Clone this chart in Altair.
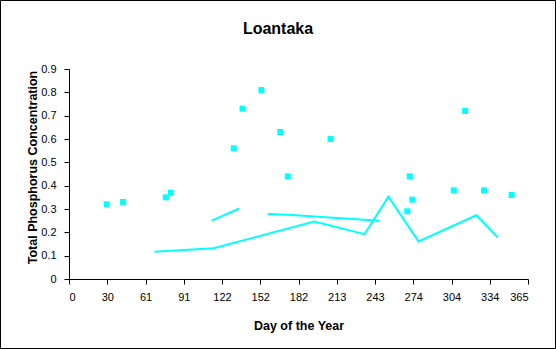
import altair as alt
import pandas as pd

# Scatter observations
scatter_day = [30, 43, 77, 81, 131, 138, 153, 168, 174, 208, 271, 273, 269, 306, 315, 330, 352]
scatter_tp = [0.32, 0.33, 0.35, 0.37, 0.56, 0.73, 0.81, 0.63, 0.44, 0.60, 0.44, 0.34, 0.29, 0.38, 0.72, 0.38, 0.36]

# Line series
lineA_day = [68, 115, 195, 235, 254, 278, 324, 341]
lineA_tp = [0.117, 0.132, 0.246, 0.192, 0.353, 0.161, 0.273, 0.178]
lineB_day = [113.5, 135.5]
lineB_tp = [0.250, 0.302]
lineC_day = [158, 177, 247]
lineC_tp = [0.279, 0.274, 0.250]

title_text = ["Loantaka"]
x_tick_labels = ["0", "30", "61", "91", "122", "152", "182", "213", "243", "274", "304", "334", "365"]
y_ticks = [0, 0.1, 0.2, 0.3, 0.4, 0.5, 0.6, 0.7, 0.8, 0.9]

x_tick_values = [k * 365 / 12 for k in range(13)]

pts = pd.DataFrame({"day": scatter_day, "tp": scatter_tp})
lines = pd.concat([
    pd.DataFrame({"day": lineA_day, "tp": lineA_tp, "series": "A"}),
    pd.DataFrame({"day": lineB_day, "tp": lineB_tp, "series": "B"}),
    pd.DataFrame({"day": lineC_day, "tp": lineC_tp, "series": "C"}),
], ignore_index=True)
lines["order"] = range(len(lines))

label_js = "[" + ",".join("'%s'" % s for s in x_tick_labels) + "]"

x_enc = alt.X(
    "day:Q",
    scale=alt.Scale(domain=[0, 365], nice=False, zero=False),
    axis=alt.Axis(
        values=x_tick_values,
        labelExpr=label_js + "[round(datum.value*12/365)]",
        title="Day of the Year",
        titleY=46,
        titleBaseline="middle",
        labelPadding=7,
    ),
)
y_enc = alt.Y(
    "tp:Q",
    scale=alt.Scale(domain=[0, 0.9], nice=False),
    axis=alt.Axis(
        values=y_ticks, format=".1~f", title="Total Phosphorus Concentration",
        titleX=-37, titleY=98, titleBaseline="middle", titleAlign="center",
        titleAngle=-90, labelPadding=8,
    ),
)

CYAN = "#00FFFF"

line_layer = alt.Chart(lines).mark_line(color=CYAN, strokeWidth=2).encode(
    x=x_enc, y=y_enc, detail="series:N", order="order:Q"
)
pt_layer = alt.Chart(pts).mark_point(
    shape="square", filled=True, color=CYAN, size=36, opacity=1
).encode(x=x_enc, y=y_enc)

frame = alt.Chart(pd.DataFrame({"a": [0]})).mark_rect(
    fill=None, stroke="black", strokeWidth=1
).encode(
    x=alt.value(-68.5), x2=alt.value(486.5), y=alt.value(-68.5), y2=alt.value(279.5)
)

title_layer = alt.Chart(pd.DataFrame({"t": title_text})).mark_text(
    font="Liberation Sans", fontSize=16, fontWeight="bold", color="black",
    align="center", baseline="alphabetic",
).encode(text="t:N", x=alt.value(209), y=alt.value(-35))

chart = alt.layer(line_layer, pt_layer, frame, title_layer).properties(
    width=459,
    height=210,
    autosize=alt.AutoSizeParams(type="none"),
    padding={"left": 69, "top": 69, "right": 28, "bottom": 70},
).configure_view(stroke=None).configure_axis(
    grid=False,
    domainColor="black",
    tickColor="black",
    labelColor="black",
    titleColor="black",
    labelFont="Liberation Sans",
    titleFont="Liberation Sans",
    labelFontSize=11,
    titleFontSize=12.5,
    titleFontWeight="bold",
    tickSize=5,
).configure_axisX(labelAngle=0)

chart.save("out.html", embed_options={"renderer": "svg", "actions": False})
